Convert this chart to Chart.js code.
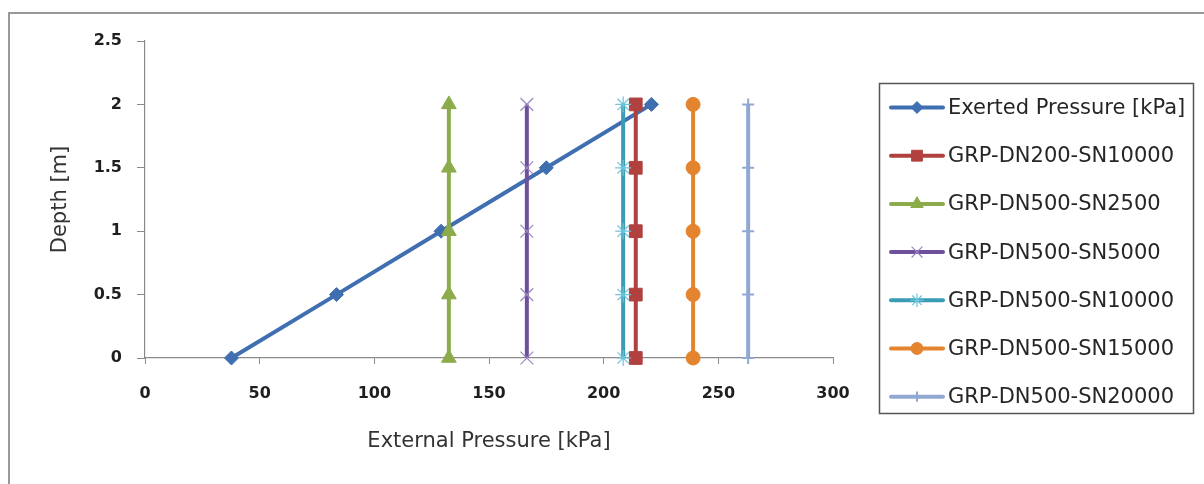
<!DOCTYPE html>
<html>
<head>
<meta charset="utf-8">
<script src="https://cdn.jsdelivr.net/npm/chart.js@4/dist/chart.umd.min.js"></script>
<style>
  html, body { margin: 0; padding: 0; background: #fff; overflow: hidden; }
  #frame {
    position: absolute; left: 8px; top: 12px;
    width: 1240px; height: 520px;
    border: 2px solid #999;
  }
  #wrap { position: absolute; left: 0; top: 0; width: 1204px; height: 484px; }
</style>
</head>
<body>
<div id="frame"></div>
<div id="wrap"><canvas id="chart" width="1204" height="484"></canvas></div>
<script>
"use strict";

// ── data ──────────────────────────────────────
const depthM = [0, 0.5, 1, 1.5, 2];

const exertedPressure = [37.7, 83.5, 129.1, 175.0, 220.8];
const dn200sn10000    = [214, 214, 214, 214, 214];
const dn500sn2500     = [132.5, 132.5, 132.5, 132.5, 132.5];
const dn500sn5000     = [166.5, 166.5, 166.5, 166.5, 166.5];
const dn500sn10000    = [208.5, 208.5, 208.5, 208.5, 208.5];
const dn500sn15000    = [239, 239, 239, 239, 239];
const dn500sn20000    = [263, 263, 263, 263, 263];

const seriesNames = [
  "Exerted Pressure [kPa]",
  "GRP-DN200-SN10000",
  "GRP-DN500-SN2500",
  "GRP-DN500-SN5000",
  "GRP-DN500-SN10000",
  "GRP-DN500-SN15000",
  "GRP-DN500-SN20000",
];
const seriesValues = [exertedPressure, dn200sn10000, dn500sn2500, dn500sn5000,
                      dn500sn10000, dn500sn15000, dn500sn20000];

// ── styles ────────────────────────────────────
const lineColors   = ["#3F6EB1", "#B0413E", "#8CAC4B", "#6F509B", "#3A9CB6", "#E4842F", "#90A9D3"];
const markerColors = ["#3F6EB1", "#B0413E", "#8CAC4B", "#9A86C2", "#6CC4DB", "#E4842F", "#90A9D3"];
const markerStyles = ["rectRot", "rect", "triangle", "crossRot", "star", "circle", "cross"];
const markerRadius = [7, 9, 8.5, 9, 8, 7, 6];
const markerBorder = [1, 1, 1, 1.2, 1.2, 1, 2];

const FONT = "'DejaVu Sans', sans-serif";

const datasets = seriesNames.map((name, i) => ({
  label: name,
  data: depthM.map((d, k) => ({ x: seriesValues[i][k], y: d })),
  showLine: true,
  borderColor: lineColors[i],
  borderWidth: 4,
  pointStyle: markerStyles[i],
  pointRadius: markerRadius[i],
  pointBackgroundColor: markerColors[i],
  pointBorderColor: markerColors[i],
  pointBorderWidth: markerBorder[i],
  clip: false,
  order: seriesNames.length - i,   // later series on top
}));

// Legend box drawn on the canvas, using the same point shapes
const boxedLegend = {
  id: "boxedLegend",
  afterDraw(chart) {
    const ctx = chart.ctx;
    const bx = 879, by = 83, bw = 314, bh = 330;
    const rowY0 = 107.5, rowStep = 48.2;
    ctx.save();
    ctx.strokeStyle = "#555";
    ctx.lineWidth = 1.5;
    ctx.strokeRect(bx + 0.5, by + 0.5, bw, bh);

    chart.data.datasets.forEach((ds, i) => {
      const y = rowY0 + i * rowStep;
      ctx.beginPath();
      ctx.strokeStyle = ds.borderColor;
      ctx.lineWidth = 4;
      ctx.lineCap = "round";
      ctx.moveTo(891, y);
      ctx.lineTo(943, y);
      ctx.stroke();

      ctx.fillStyle = ds.pointBackgroundColor;
      ctx.strokeStyle = ds.pointBorderColor;
      ctx.lineWidth = ds.pointBorderWidth;
      ctx.lineCap = "butt";
      Chart.helpers.drawPoint(ctx, {
        pointStyle: ds.pointStyle,
        radius: ds.pointRadius * 0.85,
        rotation: 0,
        borderWidth: ds.pointBorderWidth,
      }, 917, y);

      ctx.fillStyle = "#262626";
      ctx.font = "21px " + FONT;
      ctx.textAlign = "left";
      ctx.textBaseline = "middle";
      ctx.fillText(ds.label, 948, y + 1);
    });
    ctx.restore();
  },
};

new Chart(document.getElementById("chart").getContext("2d"), {
  type: "scatter",
  data: { datasets },
  plugins: [boxedLegend],
  options: {
    responsive: false,
    animation: false,
    devicePixelRatio: 1,
    layout: { padding: { left: 0, top: 41, right: 371, bottom: 0 } },
    plugins: { legend: { display: false }, tooltip: { enabled: false } },
    scales: {
      x: {
        type: "linear",
        min: 0, max: 300,
        afterFit: (s) => { s.height = 126; },
        ticks: { stepSize: 50, color: "#1f1f1f", padding: 20, font: { family: FONT, size: 16, weight: "bold" } },
        grid: { display: true, drawOnChartArea: false, drawTicks: true, tickLength: 6, color: "#8a8a8a" },
        border: { display: true, color: "#8a8a8a", width: 1.2 },
        title: {
          display: true, text: "External Pressure [kPa]", color: "#333",
          font: { family: FONT, size: 21 }, padding: { top: 0, bottom: 30 },
        },
      },
      y: {
        type: "linear",
        min: 0, max: 2.5,
        afterFit: (s) => { s.width = 145; },
        ticks: {
          stepSize: 0.5, color: "#1f1f1f", padding: 15,
          font: { family: FONT, size: 16, weight: "bold" },
          callback: (v) => String(v),
        },
        grid: { display: true, drawOnChartArea: false, drawTicks: true, tickLength: 8, color: "#8a8a8a" },
        border: { display: true, color: "#8a8a8a", width: 1.2 },
        title: {
          display: true, text: "Depth [m]", color: "#333",
          font: { family: FONT, size: 21 }, padding: { top: 48, bottom: 0 },
        },
      },
    },
  },
});
</script>
</body>
</html>
